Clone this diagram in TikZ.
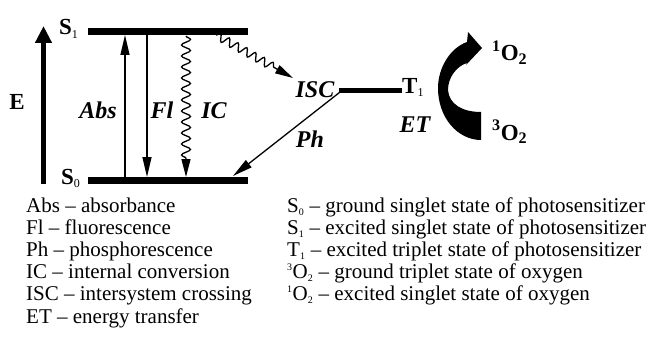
\documentclass[tikz,border=0pt]{standalone}
\usepackage{fontspec}
\setmainfont{Liberation Serif}
\usetikzlibrary{arrows.meta, decorations.pathmorphing, positioning}
\newcommand\lsub[1]{\textsubscript{\fontsize{10}{10}\selectfont #1}}
\newcommand\lsup[1]{\textsuperscript{\fontsize{10}{10}\selectfont #1}}

\begin{document}
\begin{tikzpicture}[x=1pt, y=-1pt,
    level/.style={line width=7pt},
    proc/.style={line width=1.3pt, -{Triangle[length=20pt,width=9pt]}},
    wavy/.style={line width=1.3pt, -{Triangle[length=18pt,width=9pt]}, decorate,
        decoration={snake, amplitude=4.5pt, segment length=11pt, post length=18pt}},
    lbl/.style={font=\fontsize{24}{26}\selectfont\bfseries\itshape, inner sep=0pt},
    st/.style={font=\fontsize{23}{25}\selectfont\bfseries, inner sep=0pt},
    key/.style={font=\fontsize{21}{22}\selectfont, anchor=base west, inner sep=0pt}]
    \useasboundingbox (0,0) rectangle (651,337);

    % energy levels
    \coordinate (s1a) at (88,31.5);  \coordinate (s1b) at (248,31.5);
    \coordinate (s0a) at (88,180.5); \coordinate (s0b) at (248,180.5);
    \coordinate (t1a) at (339,90.5); \coordinate (t1b) at (402,90.5);
    \draw[level] (s1a) -- (s1b);
    \draw[level] (s0a) -- (s0b);
    \draw[line width=5pt] (t1a) -- (t1b);

    % energy axis
    \coordinate (e0) at (43.5,184); \coordinate (e1) at (43.5,26);
    \draw[line width=5pt, -{Triangle[length=17pt,width=16pt]}] (e0) -- (e1);
    \node[st, anchor=base] (E) at (17,110) {E};

    \node[st, anchor=base west] (S1) at (59,35) {S\textsubscript{\normalfont\fontsize{12}{12}\selectfont 1}};
    \node[st, anchor=base west] (S0) at (61,184) {S\textsubscript{\normalfont\fontsize{12}{12}\selectfont 0}};
    \node[st, anchor=base west] (T1) at (402,93) {T\textsubscript{\normalfont\fontsize{12}{12}\selectfont 1}};

    % transitions
    \coordinate (abs0) at (125,177); \coordinate (abs1) at (125,35);
    \coordinate (fl1) at (147,35);   \coordinate (fl0) at (147,177);
    \coordinate (ic1) at (186,36);   \coordinate (ic0) at (186,177);
    \coordinate (isc1) at (216,35);  \coordinate (isc0) at (293,78);
    \coordinate (ph0) at (233,176);
    \draw[proc] (abs0) -- (abs1);
    \draw[proc] (fl1) -- (fl0);
    \draw[wavy] (ic1) -- (ic0);
    \draw[wavy, decoration={amplitude=4pt, segment length=10pt}] (isc1) -- (isc0);
    \draw[proc] ([xshift=3pt]t1a) -- (ph0);

    \node[lbl, anchor=base] (Abs) at (98,118) {Abs};
    \node[lbl, anchor=base] (Fl) at (162,118) {Fl};
    \node[lbl, anchor=base] (IC) at (214,118) {IC};
    \node[lbl, anchor=base] (ISC) at (315,98) {ISC};
    \node[lbl, anchor=base] (Ph) at (310,147) {Ph};
    \node[lbl, anchor=base] (ET) at (415,132) {ET};

    % energy transfer to oxygen
    \fill (481,140) -- (481,112)
        .. controls (462,112) and (449,104) .. (448,90)
        .. controls (448,77) and (457,66) .. (467,63)
        -- (466,65) -- (482,48) -- (468,32) -- (467,42)
        .. controls (450,48) and (438,68) .. (438,88)
        .. controls (438,118) and (458,140) .. (481,140) -- cycle;
    \node[st, anchor=base west] (O1) at (492,61) {\textsuperscript{1}O\textsubscript{2}};
    \node[st, anchor=base west] (O3) at (492,140) {\textsuperscript{3}O\textsubscript{2}};

    % legend
    \node[key] (k1) at (26,212) {Abs -- absorbance};
    \node[key] (k2) at (26,234) {Fl -- fluorescence};
    \node[key] (k3) at (26,256) {Ph -- phosphorescence};
    \node[key] (k4) at (26,278) {IC -- internal conversion};
    \node[key] (k5) at (26,300) {ISC -- intersystem crossing};
    \node[key] (k6) at (26,323) {ET -- energy transfer};
    \node[key] (k7) at (287,212) {S\lsub{0} -- ground singlet state of photosensitizer};
    \node[key] (k8) at (287,234) {S\lsub{1} -- excited singlet state of photosensitizer};
    \node[key] (k9) at (287,256) {T\lsub{1} -- excited triplet state of photosensitizer};
    \node[key] (k10) at (287,278) {\lsup{3}O\lsub{2} -- ground triplet state of oxygen};
    \node[key] (k11) at (287,300) {\lsup{1}O\lsub{2} -- excited singlet state of oxygen};
\end{tikzpicture}
\end{document}
